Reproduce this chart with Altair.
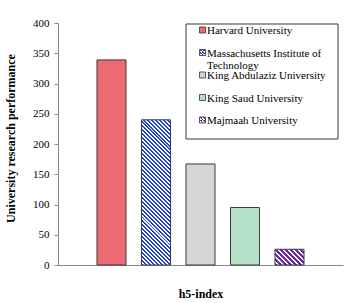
import math
import altair as alt
import pandas as pd

# ---- data ----
universities = [
    "Harvard University",
    "Massachusetts Institute of Technology",
    "King Abdulaziz University",
    "King Saud University",
    "Majmaah University",
]
values = [339, 240, 167, 95, 26]
legend_lines = [
    ["Harvard University"],
    ["Massachusetts Institute of", "Technology"],
    ["King Abdulaziz University"],
    ["King Saud University"],
    ["Majmaah University"],
]

# ---- styles: fine checker patterns are shown by their mean colour,
#      coarse diagonal hatches are drawn as striped gradients ----
stripe_colors = ["#ec6a72", "#1d3fd4", "#d6d6d6", "#b3e2c6", "#6a2aa8"]
ground_colors = ["#ec6a72", "#ffffff", "#d6d6d6", "#b3e2c6", "#ffffff"]
stripe_periods = [None, 2.83, None, None, 3.4]
stripe_dirs = ["\\", "\\", "/", "/", "\\"]
stripe_fracs = [0.5, 0.5, 0.5, 0.5, 0.5]

PLOT_W, PLOT_H = 285, 242
Y_MAX = 400
PAD_INNER, PAD_OUTER = 0.348, 0.876
FONT = "Liberation Serif"
AXIS_GRAY = "#868686"
BAR_STROKE = "#3a3a3a"

n = len(universities)
step = PLOT_W / (n - PAD_INNER + 2 * PAD_OUTER)
bar_w = step * (1 - PAD_INNER)


def hatch(w, h, direction, period, frac, ca, cb):
    if period is None:
        return ca
    k = (w + h) / (w * w + h * h)
    if direction == "\\":
        x1, y1, x2, y2 = 0, 1, k * w, 1 - k * h
    else:
        x1, y1, x2, y2 = 0, 0, k * w, k * h
    span = (w + h) / math.sqrt(2)
    N = max(1, round(span / period))
    stops = []
    for i in range(N):
        a = round(i / N, 5)
        b = round((i + frac) / N, 5)
        c = round((i + 1) / N, 5)
        stops += [
            {"offset": a, "color": ca},
            {"offset": b, "color": ca},
            {"offset": b, "color": cb},
            {"offset": c, "color": cb},
        ]
    return {"gradient": "linear", "x1": x1, "y1": y1,
            "x2": round(x2, 5), "y2": round(y2, 5), "stops": stops}


df = pd.DataFrame({"university": universities, "value": values})
legend_df = pd.DataFrame({"university": universities, "label": legend_lines})

x_enc = alt.X(
    "university:N",
    sort=universities,
    scale=alt.Scale(domain=universities, paddingInner=PAD_INNER, paddingOuter=PAD_OUTER),
    axis=alt.Axis(labels=False, ticks=False, domainColor=AXIS_GRAY, domainWidth=1,
                  titleFont=FONT, titleFontSize=12, titleFontWeight="bold",
                  titleColor="black", titlePadding=23),
    title="h5-index",
)
y_enc = alt.Y(
    "value:Q",
    scale=alt.Scale(domain=[0, Y_MAX], nice=False),
    axis=alt.Axis(values=list(range(0, 401, 50)), grid=False, tickSize=4,
                  tickColor=AXIS_GRAY, domainColor=AXIS_GRAY, labelFont=FONT,
                  labelFontSize=11, labelColor="black", labelPadding=5,
                  titleFont=FONT, titleFontSize=12, titleFontWeight="bold",
                  titleColor="black", titlePadding=15, titleY=115),
    title="University research performance",
)

base = alt.Chart(df).encode(x=x_enc, y=y_enc)
bar_layers = []
for i, u in enumerate(universities):
    h = values[i] / Y_MAX * PLOT_H
    grad = hatch(bar_w, h, stripe_dirs[i], stripe_periods[i], stripe_fracs[i],
                 stripe_colors[i], ground_colors[i])
    bar_layers.append(
        base.transform_filter(alt.datum.university == u).mark_bar(
            fill=grad, stroke=BAR_STROKE, strokeWidth=1
        )
    )
main = alt.layer(*bar_layers)

# ---- legend (inside the plot, top right) ----
leg_y = alt.Y("university:N",
              scale=alt.Scale(type="point", domain=universities, range=[7, 97], padding=0),
              axis=None)
frame = alt.Chart(alt.Data(values=[{"k": 1}])).mark_rect(
    fill="white", stroke="#3a3a3a", strokeWidth=1
).encode(x=alt.value(128), x2=alt.value(280), y=alt.value(1), y2=alt.value(116))

sym_layers = []
for i, u in enumerate(universities):
    p = stripe_periods[i]
    g = hatch(6, 6, stripe_dirs[i], None if p is None else 2.2, 0.5,
              stripe_colors[i], ground_colors[i])
    sym_layers.append(
        alt.Chart(legend_df).transform_filter(alt.datum.university == u)
        .mark_square(size=36, fill=g, stroke="#333333", strokeWidth=0.8, opacity=1)
        .encode(x=alt.value(144.5), y=leg_y)
    )
texts = alt.Chart(legend_df).mark_text(
    align="left", baseline="alphabetic", dy=4, font=FONT, fontSize=11,
    color="black", lineHeight=12
).encode(x=alt.value(149), y=leg_y, text="label")

legend = alt.layer(frame, *sym_layers, texts)

chart = alt.layer(main, legend).resolve_scale(y="independent").properties(
    width=PLOT_W, height=PLOT_H,
    padding={"left": 58, "top": 23, "right": 7, "bottom": 38},
    autosize=alt.AutoSizeParams(type="none"),
    background="white",
).configure_view(stroke=None)

chart.save("out.html", embed_options={"renderer": "svg", "actions": False})
